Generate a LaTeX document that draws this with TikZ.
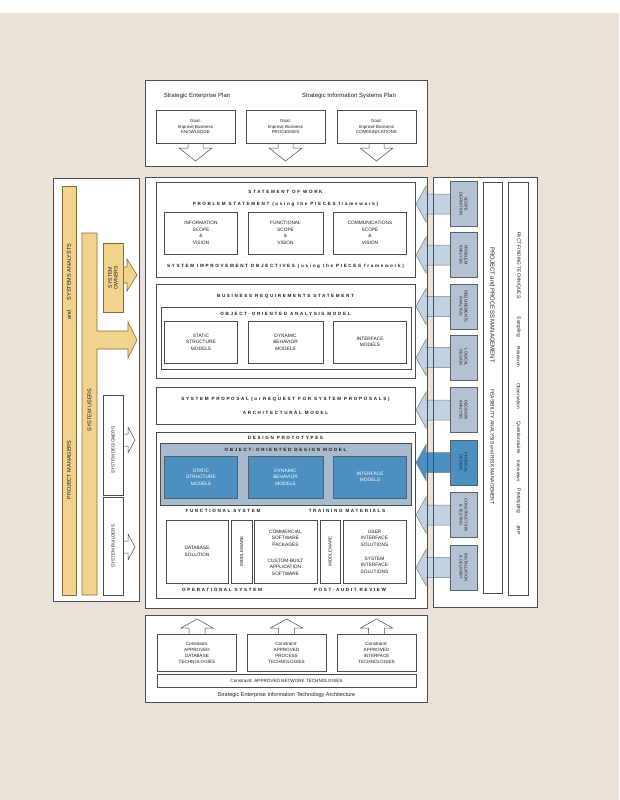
\documentclass[tikz,border=0pt]{standalone}
\usepackage{fontspec}
\setmainfont{Liberation Sans}
\newfontfamily\spacedfont[LetterSpace=36]{Liberation Sans}
\definecolor{pagebeige}{HTML}{EAE2D8}
\definecolor{framegray}{HTML}{4D4D4D}
\definecolor{rolegold}{HTML}{F2D38E}
\definecolor{goldline}{HTML}{8C6C32}
\definecolor{phasegray}{HTML}{B3C1D2}
\definecolor{phaseline}{HTML}{56616E}
\definecolor{arrowblue}{HTML}{C3D2E3}
\definecolor{deepblue}{HTML}{4B90C1}
\definecolor{modelgray}{HTML}{A8BACE}
\definecolor{textgray}{HTML}{1E1E1E}
\begin{document}
\begin{tikzpicture}[x=1pt, y=-1pt,
  frame/.style={draw=framegray, fill=white, line width=0.6pt, inner sep=0pt, outer sep=0pt, anchor=north west},
  box/.style={draw=framegray, fill=white, line width=0.5pt, inner sep=0pt, align=center, text=textgray, font=\fontsize{4.8}{6.6}\selectfont},
  heading/.style={text=textgray, font=\fontsize{4.6}{5}\spacedfont\bfseries},
  hollowarrow/.style={draw=framegray, fill=white, line width=0.5pt, line join=miter},
  goldshape/.style={draw=goldline, fill=rolegold, line width=0.6pt},
  rolelabel/.style={rotate=90, text=textgray, font=\fontsize{5.5}{6.5}\selectfont, align=center},
  phasebox/.style={draw=phaseline, line width=0.6pt, rotate=-90, minimum width=45, minimum height=27, inner sep=0pt, align=center, text=textgray, font=\fontsize{4}{5}\selectfont},
  phasearrow/.style={draw=phaseline!80, line width=0.5pt, line join=miter},
  toollabel/.style={rotate=-90, text=textgray}]
\fill[pagebeige] (0,0) rectangle (619,800);
\fill[white] (0,0) rectangle (619,13);
\useasboundingbox (0,0) rectangle (619,800);

% planning layer
\node[frame, minimum width=282, minimum height=86] (plans) at (145,80) {};
\node[text=textgray, font=\fontsize{6}{7}\selectfont] (entplan) at (197,96) {Strategic Enterprise Plan};
\node[text=textgray, font=\fontsize{6}{7}\selectfont] (isplan) at (349,96) {Strategic Information Systems Plan};
\foreach \cx/\gname/\gtext in {195.5/goalk/KNOWLEDGE, 285.5/goalp/PROCESSES, 376.5/goalc/COMMUNICATIONS}{
  \draw[hollowarrow] ({\cx-7.5},142) -- ({\cx-7.5},148) -- ({\cx-16.5},148) -- (\cx,161) -- ({\cx+16.5},148) -- ({\cx+7.5},148) -- ({\cx+7.5},142);
  \node[box, minimum width=79, minimum height=33, font=\fontsize{4.4}{5.4}\selectfont] (\gname) at (\cx,126.5) {Goal:\\Improve Business\\\gtext};
}

% frames
\node[frame, minimum width=282, minimum height=431] (main) at (145,177) {};
\node[frame, minimum width=86, minimum height=423] (roles) at (53,178) {};
\node[frame, minimum width=104, minimum height=430] (tools) at (433,177) {};

% statement of work
\node[frame, minimum width=259, minimum height=95] (sow) at (156,182) {};
\node[heading] (sowtitle) at (285.5,192) {STATEMENT OF WORK};
\node[heading] (probstmt) at (285.5,204) {PROBLEM STATEMENT (using the PIECES framework)};
\node[box, minimum width=73, minimum height=42] (infoscope) at (201,233) {INFORMATION\\SCOPE\\\&\\VISION};
\node[box, minimum width=75, minimum height=42] (funcscope) at (285.5,233) {FUNCTIONAL\\SCOPE\\\&\\VISION};
\node[box, minimum width=73, minimum height=42] (commscope) at (370,233) {COMMUNICATIONS\\SCOPE\\\&\\VISION};
\node[heading] (objectives) at (285.5,266) {SYSTEM IMPROVEMENT OBJECTIVES (using the PIECES framework)};

% business requirements
\node[frame, minimum width=259, minimum height=94] (brs) at (156,284) {};
\node[heading] (brstitle) at (285.5,296) {BUSINESS REQUIREMENTS STATEMENT};
\node[frame, minimum width=250, minimum height=62] (ooa) at (161,307) {};
\node[heading] (ooatitle) at (285.5,314) {OBJECT-ORIENTED ANALYSIS MODEL};
\node[box, minimum width=73, minimum height=42] (astatic) at (201,342) {STATIC\\STRUCTURE\\MODELS};
\node[box, minimum width=75, minimum height=42] (adynamic) at (285.5,342) {DYNAMIC\\BEHAVIOR\\MODELS};
\node[box, minimum width=73, minimum height=42] (ainterface) at (370,342) {INTERFACE\\MODELS};

% system proposal
\node[frame, minimum width=259, minimum height=37] (proposal) at (156,387) {};
\node[heading] (proptitle) at (285.5,399) {SYSTEM PROPOSAL\enspace (or\enspace REQUEST FOR SYSTEM PROPOSALS)};
\node[heading] (archmodel) at (285.5,413) {ARCHITECTURAL MODEL};

% design and construction
\node[frame, minimum width=259, minimum height=166] (design) at (156,432) {};
\node[heading] (prototypes) at (285.5,438) {DESIGN PROTOTYPES};
\node[frame, fill=modelgray, minimum width=251, minimum height=62] (ood) at (160,443) {};
\node[heading] (oodtitle) at (285.5,450) {OBJECT-ORIENTED DESIGN MODEL};
\node[box, fill=deepblue, draw=phaseline, text=white, minimum width=73, minimum height=42] (dstatic) at (201,477) {STATIC\\STRUCTURE\\MODELS};
\node[box, fill=deepblue, draw=phaseline, text=white, minimum width=75, minimum height=42] (ddynamic) at (285.5,477) {DYNAMIC\\BEHAVIOR\\MODELS};
\node[box, fill=deepblue, draw=phaseline, text=white, minimum width=73, minimum height=42] (dinterface) at (370,477) {INTERFACE\\MODELS};
\node[heading] (funcsystem) at (223,511) {FUNCTIONAL SYSTEM};
\node[heading] (training) at (347,511) {TRAINING MATERIALS};
\node[box, minimum width=62, minimum height=63] (database) at (197,551.5) {DATABASE\\SOLUTION};
\node[box, minimum width=21, minimum height=63] (middleone) at (241.5,551.5) {};
\node[rotate=90, text=textgray, font=\fontsize{4.4}{5}\selectfont] at (middleone) {MIDDLEWARE};
\node[box, minimum width=63, minimum height=63] (software) at (285.5,551.5) {};
\node[text=textgray, align=center, font=\fontsize{4.8}{6.6}\selectfont] (cots) at (285.5,538) {COMMERCIAL\\SOFTWARE\\PACKAGES};
\node[text=textgray, align=center, font=\fontsize{4.8}{6.6}\selectfont] (custom) at (285.5,567) {CUSTOM-BUILT\\APPLICATION\\SOFTWARE};
\node[box, minimum width=20, minimum height=63] (middletwo) at (330,551.5) {};
\node[rotate=90, text=textgray, font=\fontsize{4.4}{5}\selectfont] at (middletwo) {MIDDLEWARE};
\node[box, minimum width=63, minimum height=63] (solutions) at (374.5,551.5) {};
\node[text=textgray, align=center, font=\fontsize{4.8}{6.6}\selectfont] (userif) at (374.5,538) {USER\\INTERFACE\\SOLUTIONS};
\node[text=textgray, align=center, font=\fontsize{4.8}{6.6}\selectfont] (sysif) at (374.5,565) {SYSTEM\\INTERFACE\\SOLUTIONS};
\node[heading] (opsystem) at (222,590) {OPERATIONAL SYSTEM};
\node[heading] (audit) at (350,590) {POST-AUDIT REVIEW};

% phases
\foreach \cy/\pname/\ptext/\pfill/\afill in {
    204/scopedef/{SCOPE\\DEFINITION}/phasegray/arrowblue,
    255/probanal/{PROBLEM\\ANALYSIS}/phasegray/arrowblue,
    306.5/reqanal/{REQUIREMENTS\\ANALYSIS}/phasegray/arrowblue,
    357.5/logdesign/{LOGICAL\\DESIGN}/phasegray/arrowblue,
    410/decanal/{DECISION\\ANALYSIS}/phasegray/arrowblue,
    462.5/physdesign/{PHYSICAL\\DESIGN}/deepblue/deepblue,
    515/construct/{CONSTRUCTION\\\& TESTING}/phasegray/arrowblue,
    567.5/install/{INSTALLATION\\\& DELIVERY}/phasegray/arrowblue}{
  \draw[phasearrow, fill=\afill] (451,{\cy-10}) -- (426,{\cy-10}) -- (426,{\cy-18}) -- (416,\cy) -- (426,{\cy+18}) -- (426,{\cy+10}) -- (451,{\cy+10});
  \node[phasebox, fill=\pfill] (\pname) at (463.5,\cy) {\ptext};
}
\draw[framegray, line width=0.6pt] (main.north east) -- (main.south east);
\draw[framegray, line width=0.6pt] (tools.north west) -- (tools.south west);

% management and techniques
\node[frame, minimum width=19, minimum height=411] (mgmt) at (483,182) {};
\node[toollabel, font=\fontsize{6}{7}\selectfont] (ppm) at (492.5,305) {PROJECT and PROCESS MANAGEMENT};
\node[toollabel, font=\fontsize{5}{6}\selectfont] (risk) at (492.5,447) {FEASIBILITY ANALYSIS and RISK MANAGEMENT};
\node[frame, minimum width=20, minimum height=413] (facts) at (508.5,182) {};
\foreach \fy/\fword in {266/FACT-FINDING TECHNIQUES:, 327/Sampling, 357/Research, 396/Observation, 438/Questionnaires, 471/Interviews, 501/Prototyping, 530/JRP}
  \node[toollabel, font=\fontsize{4.8}{5}\selectfont] at (518.5,\fy) {\fword};

% roles
\node[frame, goldshape, minimum width=14, minimum height=409] (pmbar) at (62,186) {};
\node[rolelabel] (analysts) at (69,272) {SYSTEMS ANALYSTS};
\node[rolelabel] (andlbl) at (69,315) {and};
\node[rolelabel] (managers) at (69,470) {PROJECT MANAGERS};
\draw[goldshape, line join=miter] (82,595) -- (82,233) -- (97,233) -- (97,331) -- (128,331) -- (128,322) -- (137,340) -- (128,358) -- (128,349) -- (97,349) -- (97,595) -- cycle;
\node[rolelabel] (users) at (89.5,410) {SYSTEM USERS};
\draw[goldshape, line join=miter] (121,267) -- (127,267) -- (127,259) -- (137,275) -- (127,291) -- (127,283) -- (121,283);
\node[frame, goldshape, minimum width=20, minimum height=69] (owners) at (103,243) {};
\node[rolelabel, font=\fontsize{5.2}{5.8}\selectfont] at (owners) {SYSTEM\\OWNERS};
\draw[hollowarrow] (122,434) -- (128,434) -- (128,427) -- (135,440) -- (128,453) -- (128,446) -- (122,446);
\node[frame, minimum width=20, minimum height=100] (designers) at (103,395) {};
\node[rolelabel, font=\fontsize{4.5}{5}\selectfont] at (113,450) {SYSTEM DESIGNERS};
\draw[hollowarrow] (122,541) -- (128,541) -- (128,534) -- (135,547) -- (128,560) -- (128,553) -- (122,553);
\node[frame, minimum width=20, minimum height=98] (builders) at (103,497) {};
\node[rolelabel, font=\fontsize{4.5}{5}\selectfont] at (builders) {SYSTEM BUILDERS};

% technology architecture
\node[frame, minimum width=282, minimum height=87] (techarch) at (145,615) {};
\foreach \cx/\cname/\ctext in {197/condb/DATABASE, 286.5/conproc/PROCESS, 376.5/conif/INTERFACE}{
  \draw[hollowarrow] ({\cx-8},635) -- ({\cx-8},628) -- ({\cx-16},628) -- (\cx,619) -- ({\cx+16},628) -- ({\cx+8},628) -- ({\cx+8},635);
  \node[box, minimum width=79, minimum height=37, font=\fontsize{4.6}{6}\selectfont] (\cname) at (\cx,652.5) {Constraint:\\APPROVED\\\ctext\\TECHNOLOGIES};
}
\node[box, minimum width=259, minimum height=13, font=\fontsize{4.6}{5}\selectfont] (network) at (286.5,680.5) {Constraint: APPROVED NETWORK TECHNOLOGIES};
\node[text=textgray, font=\fontsize{5.5}{6.5}\selectfont] (archlbl) at (286.5,695) {Strategic Enterprise Information Technology Architecture};
\end{tikzpicture}
\end{document}
